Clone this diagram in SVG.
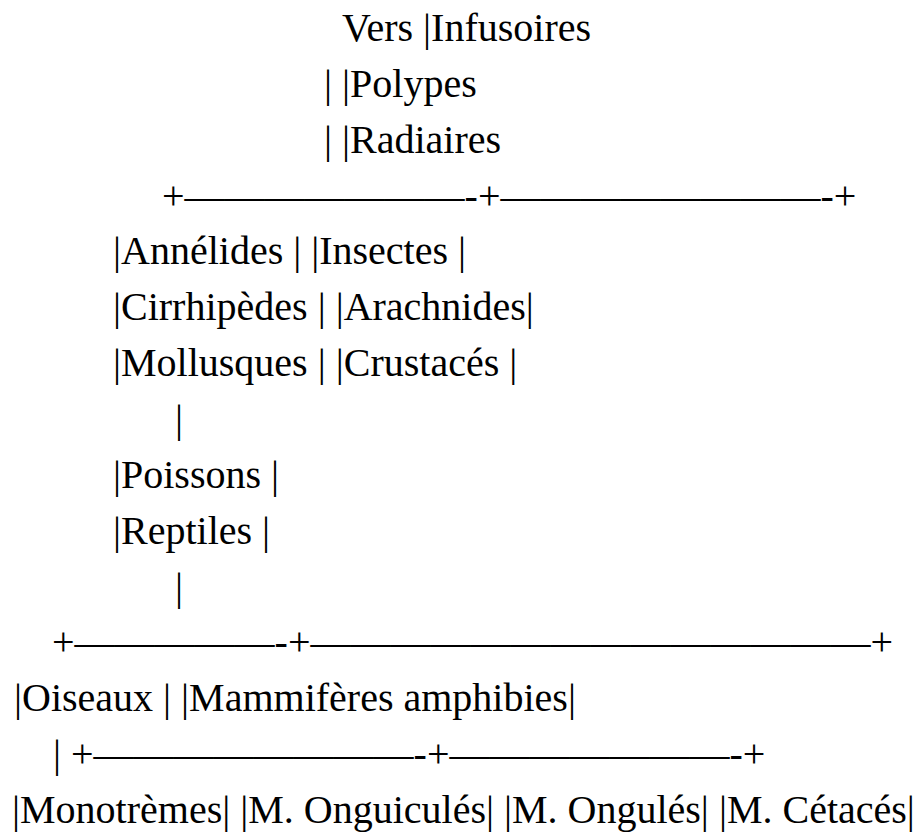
<svg xmlns="http://www.w3.org/2000/svg" width="913" height="833" viewBox="0 0 913 833">
<style>
.t{font-family:'Liberation Serif','Tinos','Times New Roman',Times,'Noto Serif','DejaVu Serif',serif;font-size:40px;fill:#000}
</style>
<rect x="0" y="0" width="913" height="833" fill="#fff"/>
<g id="tree" font-family="Liberation Serif, Times New Roman, serif">
<text class="t" x="342" y="41">Vers |Infusoires</text>
<text class="t" x="324" y="97">| |Polypes</text>
<text class="t" x="324" y="153">| |Radiaires</text>
<text class="t" x="162" y="209">+———————-+————————-+</text>
<text class="t" x="113" y="264">|Annélides | |Insectes |</text>
<text class="t" x="113" y="320">|Cirrhipèdes | |Arachnides|</text>
<text class="t" x="113" y="376">|Mollusques | |Crustacés |</text>
<text class="t" x="175" y="432">|</text>
<text class="t" x="113" y="488">|Poissons |</text>
<text class="t" x="113" y="544">|Reptiles |</text>
<text class="t" x="175" y="600">|</text>
<text class="t" x="52" y="655">+—————-+——————————————+</text>
<text class="t" x="14" y="711">|Oiseaux | |Mammifères amphibies|</text>
<text class="t" x="53" y="767">| +————————-+———————-+</text>
<text class="t" x="12" y="823">|Monotrèmes| |M. Onguiculés| |M. Ongulés| |M. Cétacés|</text>
</g>
</svg>
